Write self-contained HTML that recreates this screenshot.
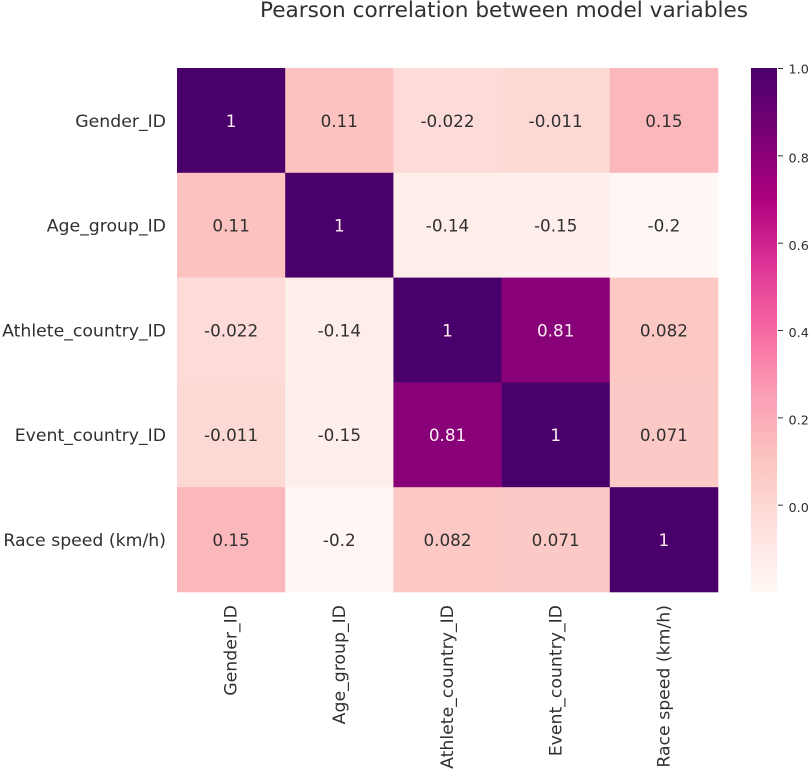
<!DOCTYPE html>
<html>
<head>
<meta charset="utf-8">
<style>
html,body{margin:0;padding:0;background:#fff;width:810px;height:771px;overflow:hidden}
svg{display:block}
text{font-family:"DejaVu Sans","Liberation Sans",sans-serif;fill:#303030}
</style>
</head>
<body>
<svg id="chart" width="810" height="771" viewBox="0 0 810 771" xmlns="http://www.w3.org/2000/svg">
<text x="504" y="17" text-anchor="middle" font-size="21.6">Pearson correlation between model variables</text>
<g id="cells"></g>
<g id="ylabels"></g>
<g id="xlabels"></g>
<g id="cbar"></g>
</svg>
<script>
const categories = ["Gender_ID", "Age_group_ID", "Athlete_country_ID", "Event_country_ID", "Race speed (km/h)"];
const row0 = [1, 0.11, -0.022, -0.011, 0.15];
const row1 = [0.11, 1, -0.14, -0.15, -0.2];
const row2 = [-0.022, -0.14, 1, 0.81, 0.082];
const row3 = [-0.011, -0.15, 0.81, 1, 0.071];
const row4 = [0.15, -0.2, 0.082, 0.071, 1];
const matrix = [row0, row1, row2, row3, row4];
const colorbarTicks = [0.0, 0.2, 0.4, 0.6, 0.8, 1.0];
const colorDomain = [-0.2, 1];
const rdpu = ["#fff7f3", "#fde0dd", "#fcc5c0", "#fa9fb5", "#f768a1", "#dd3497", "#ae017e", "#7a0177", "#49006a"];

const NS = "http://www.w3.org/2000/svg";
const plot = {left: 177, right: 718, top: 68, bottom: 592};
const bar = {left: 751, right: 777};

function hexToRgb(h) {
  return [1, 3, 5].map(i => parseInt(h.slice(i, i + 2), 16));
}
function colorFor(v) {
  let t = (v - colorDomain[0]) / (colorDomain[1] - colorDomain[0]);
  t = Math.max(0, Math.min(1, t));
  const p = t * (rdpu.length - 1);
  const i = Math.min(Math.floor(p), rdpu.length - 2);
  const f = p - i;
  const a = hexToRgb(rdpu[i]);
  const b = hexToRgb(rdpu[i + 1]);
  const c = a.map((x, k) => Math.round(x + (b[k] - x) * f));
  return "rgb(" + c.join(",") + ")";
}
function luminance(v) {
  const m = colorFor(v).match(/\d+/g).map(Number);
  return 0.2126 * m[0] / 255 + 0.7152 * m[1] / 255 + 0.0722 * m[2] / 255;
}
function xScale(i) {
  return plot.left + i * (plot.right - plot.left) / categories.length;
}
function yScale(i) {
  return plot.top + i * (plot.bottom - plot.top) / categories.length;
}
function cbarY(v) {
  return plot.bottom - (v - colorDomain[0]) / (colorDomain[1] - colorDomain[0]) * (plot.bottom - plot.top);
}
function make(tag, attrs, parent, txt) {
  const el = document.createElementNS(NS, tag);
  for (const k in attrs) el.setAttribute(k, attrs[k]);
  if (txt !== undefined) el.textContent = txt;
  parent.appendChild(el);
  return el;
}

const cellsG = document.getElementById("cells");
matrix.forEach((row, r) => {
  row.forEach((v, c) => {
    const rect = make("rect", {
      x: xScale(c), y: yScale(r),
      width: xScale(c + 1) - xScale(c) + 0.3,
      height: yScale(r + 1) - yScale(r) + 0.3,
      fill: colorFor(v)
    }, cellsG);
    
    
    const label = make("text", {
      x: (xScale(c) + xScale(c + 1)) / 2,
      y: (yScale(r) + yScale(r + 1)) / 2 + 6.4,
      "text-anchor": "middle",
      "font-size": 16.8
    }, cellsG, String(v));
    label.style.fill = luminance(v) < 0.408 ? "#fdeef2" : "#303030";
    
    
  });
});

const yG = document.getElementById("ylabels");
const xG = document.getElementById("xlabels");
categories.forEach((name, i) => {
  const yl = make("text", {
    x: 166,
    y: (yScale(i) + yScale(i + 1)) / 2 + 6.4,
    "text-anchor": "end",
    "font-size": 17.3
  }, yG, name);
  
  
  const cx = (xScale(i) + xScale(i + 1)) / 2 + 5.6;
  const xl = make("text", {
    x: cx,
    y: 605,
    "text-anchor": "end",
    "font-size": 17.3,
    transform: "rotate(-90 " + cx + " 605)"
  }, xG, name);
  
  
});

const cbarG = document.getElementById("cbar");
const defs = make("defs", {}, cbarG);
const grad = make("linearGradient", {id: "cbarGrad", x1: 0, y1: 1, x2: 0, y2: 0}, defs);
rdpu.forEach((col, i) => {
  make("stop", {offset: i / (rdpu.length - 1), "stop-color": col}, grad);
});
const barRect = make("rect", {
  x: bar.left, y: plot.top,
  width: bar.right - bar.left,
  height: plot.bottom - plot.top,
  fill: "url(#cbarGrad)"
}, cbarG);


colorbarTicks.forEach(t => {
  const y = cbarY(t) + 0.5;
  const mark = make("line", {
    x1: 778, x2: 783, y1: y, y2: y,
    stroke: "#303030", "stroke-width": 1
  }, cbarG);
  
  
  const lab = make("text", {
    x: 788.5, y: y + (t === 1 ? 5 : 6.6), "font-size": 12.8
  }, cbarG, t.toFixed(1));
  
  
});
</script>
</body>
</html>
